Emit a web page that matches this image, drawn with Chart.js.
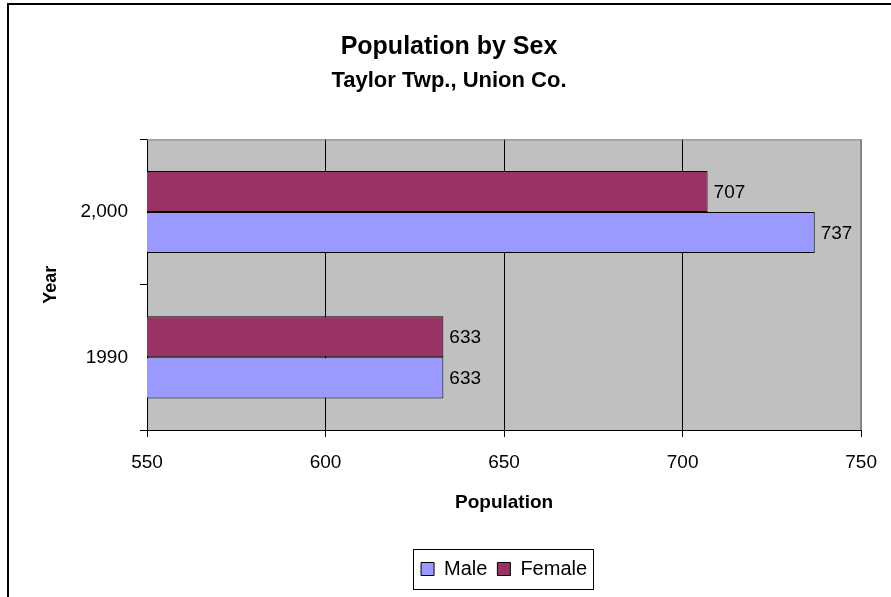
<!DOCTYPE html>
<html>
<head>
<meta charset="utf-8">
<script src="https://cdn.jsdelivr.net/npm/chart.js@4"></script>
<style>
  html, body { margin: 0; padding: 0; background: #fff; }
  canvas { display: block; }
</style>
</head>
<body>
<canvas id="chart" width="891" height="597"></canvas>
<script>
// chart values
const years = ['2,000', '1990'];
const female = [707, 633];
const male = [737, 633];
const xTicks = [550, 600, 650, 700, 750];

const FONT = '"Liberation Sans", Arial, sans-serif';

// grey plot area, drawn before the grid
const plotBackground = {
  id: 'plotBackground',
  beforeDraw(chart) {
    const { ctx, chartArea: a } = chart;
    ctx.save();
    ctx.fillStyle = '#fff';
    ctx.fillRect(0, 0, chart.width, chart.height);
    ctx.fillStyle = '#c0c0c0';
    ctx.fillRect(a.left, a.top, a.right - a.left, a.bottom - a.top);
    ctx.restore();
  },
  beforeDatasetsDraw(chart) {
    const { ctx, chartArea: a } = chart;
    ctx.save();
    ctx.strokeStyle = '#808080';
    ctx.lineWidth = 1;
    ctx.beginPath();
    ctx.moveTo(a.left, a.top + 0.5);
    ctx.lineTo(a.right, a.top + 0.5);
    ctx.moveTo(a.right - 0.5, a.top);
    ctx.lineTo(a.right - 0.5, a.bottom);
    ctx.stroke();
    ctx.restore();
  }
};

// value labels to the right of each bar, plus frame and legend box
const extras = {
  id: 'extras',
  afterDatasetsDraw(chart) {
    const { ctx } = chart;
    ctx.save();
    ctx.fillStyle = '#000';
    ctx.font = '19px ' + FONT;
    ctx.textAlign = 'left';
    ctx.textBaseline = 'middle';
    chart.data.datasets.forEach((ds, i) => {
      chart.getDatasetMeta(i).data.forEach((bar, j) => {
        ctx.fillText(String(ds.data[j]), bar.x + 6, bar.y + 1);
      });
    });
    ctx.restore();
  },
  afterDraw(chart) {
    const { ctx } = chart;
    ctx.save();
    ctx.strokeStyle = '#000';
    ctx.lineWidth = 2;
    ctx.beginPath();
    ctx.moveTo(8, 597);
    ctx.lineTo(8, 4);
    ctx.lineTo(891, 4);
    ctx.stroke();

    const boxes = chart.legend.legendHitBoxes;
    if (boxes && boxes.length) {
      const l = Math.min(...boxes.map(b => b.left));
      const r = Math.max(...boxes.map(b => b.left + b.width));
      const t = Math.min(...boxes.map(b => b.top));
      const b = Math.max(...boxes.map(b => b.top + b.height));
      ctx.lineWidth = 1;
      ctx.strokeRect(Math.round(l - 8) + 0.5, Math.round(t - 10) + 0.5,
        Math.round(r - l + 14), Math.round(b - t + 20));
    }
    ctx.restore();
  }
};

new Chart(document.getElementById('chart'), {
  type: 'bar',
  data: {
    labels: years,
    datasets: [
      {
        label: 'Female',
        data: female,
        backgroundColor: '#993366',
        borderColor: '#000',
        borderWidth: 1,
        borderSkipped: false,
        categoryPercentage: 0.565,
        barPercentage: 1
      },
      {
        label: 'Male',
        data: male,
        backgroundColor: '#9999ff',
        borderColor: '#000',
        borderWidth: 1,
        borderSkipped: false,
        categoryPercentage: 0.565,
        barPercentage: 1
      }
    ]
  },
  options: {
    indexAxis: 'y',
    responsive: false,
    animation: false,
    layout: { padding: { left: 36, right: 29, top: 0, bottom: 8 } },
    plugins: {
      title: {
        display: true,
        text: 'Population by Sex',
        color: '#000',
        font: { family: FONT, size: 25, weight: 'bold', lineHeight: 1.2 },
        padding: { top: 32, bottom: 0 }
      },
      subtitle: {
        display: true,
        text: 'Taylor Twp., Union Co.',
        color: '#000',
        font: { family: FONT, size: 22, weight: 'bold', lineHeight: 1.2 },
        padding: { top: 6, bottom: 45 }
      },
      legend: {
        position: 'bottom',
        fullSize: false,
        reverse: true,
        labels: {
          color: '#000',
          font: { family: FONT, size: 20 },
          boxWidth: 13,
          boxHeight: 13,
          padding: 10,
          generateLabels(chart) {
            return chart.data.datasets.map((ds, i) => ({
              text: ds.label,
              fillStyle: ds.backgroundColor,
              strokeStyle: '#000',
              lineWidth: 1,
              datasetIndex: i,
              hidden: false
            }));
          }
        }
      },
      tooltip: { enabled: false }
    },
    scales: {
      x: {
        min: 550,
        max: 750,
        afterBuildTicks(scale) {
          scale.ticks = xTicks.map(v => ({ value: v }));
        },
        afterFit(scale) { scale.height = 119; },
        grid: {
          color: ctx => (ctx.tick && ctx.tick.value === 750 ? '#808080' : '#000'),
          tickColor: '#000',
          tickLength: 7,
          lineWidth: 1
        },
        border: { color: '#000', width: 1 },
        ticks: {
          color: '#000',
          font: { family: FONT, size: 19 },
          padding: 14,
          maxRotation: 0
        },
        title: {
          display: true,
          text: 'Population',
          color: '#000',
          font: { family: FONT, size: 19, weight: 'bold' },
          padding: { top: 4, bottom: 35 }
        }
      },
      y: {
        afterFit(scale) { scale.width = 111; },
        grid: {
          color: 'transparent',
          tickColor: '#000',
          tickLength: 7,
          offset: true
        },
        border: { color: '#000', width: 1 },
        ticks: {
          color: '#000',
          font: { family: FONT, size: 19 },
          padding: 12
        },
        title: {
          display: true,
          text: 'Year',
          color: '#000',
          font: { family: FONT, size: 18, weight: 'bold' },
          padding: { top: 4, bottom: 4 }
        }
      }
    }
  },
  plugins: [plotBackground, extras]
});
</script>
</body>
</html>
